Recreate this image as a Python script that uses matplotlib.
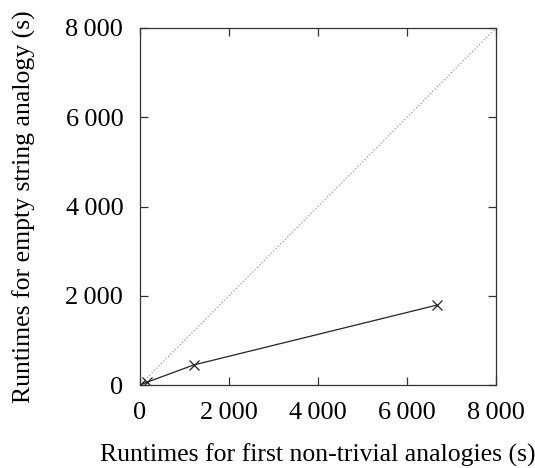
import numpy as np
import matplotlib.pyplot as plt
from matplotlib.ticker import FuncFormatter

plt.rcParams['font.family'] = ['Liberation Serif', 'DejaVu Serif']

# runtimes (s)
first_nontrivial = [0, 150, 1210, 6670]
empty_string = [0, 60, 450, 1790]
ticks = [0, 2000, 4000, 6000, 8000]


def fmt(v, pos):
    s = '{:,}'.format(int(v))
    return s.replace(',', '\u2009')


fig = plt.figure(figsize=(5.35, 4.68), dpi=100)
ax = fig.add_axes([140 / 535, 1 - 385 / 468, 356 / 535, 357 / 468])

ax.plot([0, 8000], [0, 8000], color='#999999', linestyle=':', linewidth=0.9)
ax.plot(first_nontrivial, empty_string, color='#222222', linewidth=0.9,
        marker='x', markersize=7, markeredgewidth=0.9)

ax.set_xlim(0, 8000)
ax.set_ylim(0, 8000)
ax.set_xticks(ticks)
ax.set_yticks(ticks)
ax.xaxis.set_major_formatter(FuncFormatter(fmt))
ax.yaxis.set_major_formatter(FuncFormatter(fmt))
ax.tick_params(direction='in', top=True, right=True, length=6, width=0.9,
               color='#333333', labelsize=19, pad=12)
for sp in ax.spines.values():
    sp.set_linewidth(0.9)
    sp.set_color('#333333')

ax.set_xlabel('Runtimes for first non-trivial analogies (s)', fontsize=18.5, labelpad=14)
ax.set_ylabel('Runtimes for empty string analogy (s)', fontsize=18.5, labelpad=21)

fig.savefig('out.png', dpi=100)
